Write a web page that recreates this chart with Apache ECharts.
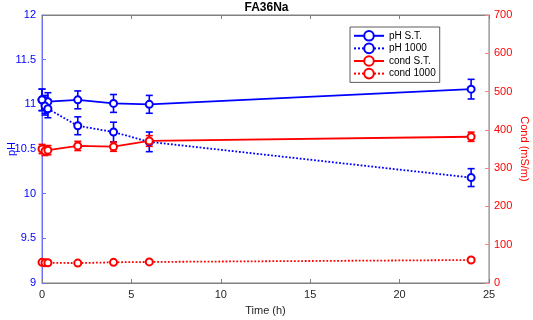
<!DOCTYPE html>
<html><head><meta charset="utf-8">
<script src="https://cdn.jsdelivr.net/npm/echarts@6/dist/echarts.min.js"></script>
<style>html,body{margin:0;padding:0;background:#fff}#c{width:533px;height:320px}</style>
</head><body><div id="c"></div>
<script>
// Data
var timeST = [0, 0.17, 0.33, 2, 4, 6, 24];
var phST = [11.05, 11.0, 11.03, 11.05, 11.01, 11.0, 11.17];
var phSTerr = [0.12, 0.1, 0.1, 0.1, 0.1, 0.1, 0.11];
var time1000 = [0, 0.17, 0.33, 2, 4, 6, 24];
var ph1000 = [11.05, 10.98, 10.95, 10.76, 10.69, 10.58, 10.18];
var ph1000err = [0.12, 0.1, 0.1, 0.1, 0.11, 0.11, 0.1];
var condST = [350, 345, 347, 358, 356, 371, 382];
var condSTerr = [12, 12, 12, 12, 12, 14, 12];
var cond1000 = [54, 53, 53, 52, 54, 55, 60];
var cond1000err = [4, 4, 4, 3, 3, 3, 4];
var seriesNames = ['pH S.T.', 'pH 1000', 'cond S.T.', 'cond 1000'];

var BLUE = '#0000ff', RED = '#ff0000';

function pts(t, v) { return t.map(function (x, i) { return [x, v[i]]; }); }
function errs(t, v, e) { return t.map(function (x, i) { return [x, v[i] - e[i], v[i] + e[i]]; }); }

function errSeries(data, color, yIdx) {
  return {
    type: 'custom', xAxisIndex: 0, yAxisIndex: yIdx, data: data, z: 3,
    encode: { x: 0, y: [1, 2] }, silent: true,
    renderItem: function (params, api) {
      var x = api.value(0);
      var a = api.coord([x, api.value(1)]), b = api.coord([x, api.value(2)]);
      var w = 3.5, st = { stroke: color, lineWidth: 1.6 };
      return { type: 'group', children: [
        { type: 'line', shape: { x1: a[0], y1: a[1], x2: b[0], y2: b[1] }, style: st },
        { type: 'line', shape: { x1: a[0] - w, y1: a[1], x2: a[0] + w, y2: a[1] }, style: st },
        { type: 'line', shape: { x1: b[0] - w, y1: b[1], x2: b[0] + w, y2: b[1] }, style: st }
      ] };
    }
  };
}
function lineSeries(name, data, color, type, yIdx) {
  return {
    name: name, type: 'line', xAxisIndex: 0, yAxisIndex: yIdx, data: data, z: 4,
    symbol: 'emptyCircle', symbolSize: 7, showAllSymbol: true,
    itemStyle: { color: color, borderColor: color, borderWidth: 1.5 },
    lineStyle: { color: color, width: 1.8, type: type },
    emphasis: { disabled: true }, animation: false
  };
}

var chart = echarts.init(document.getElementById('c'));
chart.setOption({
  animation: false,
  backgroundColor: '#fff',
  textStyle: { fontFamily: 'Liberation Sans, Arial, sans-serif' },
  title: { text: 'FA36Na', left: 'center', top: 1, padding: [1, 5], textStyle: { fontSize: 12, fontWeight: 'bold', color: '#000' } },
  grid: { left: 42, right: 44, top: 15, bottom: 37, show: true, borderColor: '#808080', borderWidth: 1, outerBoundsMode: 'none', containLabel: false },
  legend: {
    data: seriesNames, orient: 'vertical', left: 350, top: 27,
    backgroundColor: '#fff', borderColor: '#333', borderWidth: 0.8, padding: [3, 4, 3, 3],
    itemGap: 1, itemWidth: 30, itemHeight: 12,
    textStyle: { fontSize: 10, color: '#000' }
  },
  xAxis: [{
    type: 'value', min: 0, max: 25, interval: 5, position: 'bottom',
    name: 'Time (h)', nameLocation: 'middle', nameGap: 22, nameMoveOverlap: false, nameTextStyle: { fontSize: 11, color: '#262626' },
    axisLine: { onZero: false, lineStyle: { color: '#808080' } },
    axisTick: { inside: true, length: 4, lineStyle: { color: '#808080' } },
    axisLabel: { fontSize: 11, color: '#262626', margin: 6 }, splitLine: { show: false }
  }, {
    type: 'value', min: 0, max: 25, interval: 5, position: 'top',
    axisLine: { onZero: false, lineStyle: { color: '#808080' } },
    axisTick: { inside: true, length: 4, lineStyle: { color: '#808080' } },
    axisLabel: { show: false }, splitLine: { show: false }
  }],
  yAxis: [{
    type: 'value', min: 9, max: 12, interval: 0.5, position: 'left',
    name: 'pH', nameLocation: 'middle', nameGap: 25, nameMoveOverlap: false, nameRotate: 90, nameTextStyle: { fontSize: 11, color: BLUE },
    axisLine: { show: true, onZero: false, lineStyle: { color: '#7070ff' } },
    axisTick: { show: true, inside: true, length: 4, lineStyle: { color: '#7070ff' } },
    axisLabel: { fontSize: 11, color: BLUE, margin: 6 }, splitLine: { show: false }
  }, {
    type: 'value', min: 0, max: 700, interval: 100, position: 'right',
    name: 'Cond (mS/m)', nameLocation: 'middle', nameGap: 30, nameMoveOverlap: false, nameRotate: -90, nameTextStyle: { fontSize: 11, color: RED },
    axisLine: { show: true, onZero: false, lineStyle: { color: '#ff8080' } },
    axisTick: { show: true, inside: true, length: 4, lineStyle: { color: '#ff8080' } },
    axisLabel: { fontSize: 11, color: RED, margin: 5 }, splitLine: { show: false }
  }],
  series: [
    errSeries(errs(timeST, phST, phSTerr), BLUE, 0),
    errSeries(errs(time1000, ph1000, ph1000err), BLUE, 0),
    errSeries(errs(timeST, condST, condSTerr), RED, 1),
    errSeries(errs(time1000, cond1000, cond1000err), RED, 1),
    lineSeries(seriesNames[0], pts(timeST, phST), BLUE, 'solid', 0),
    lineSeries(seriesNames[1], pts(time1000, ph1000), BLUE, 'dotted', 0),
    lineSeries(seriesNames[2], pts(timeST, condST), RED, 'solid', 1),
    lineSeries(seriesNames[3], pts(time1000, cond1000), RED, 'dotted', 1)
  ]
});
</script></body></html>
